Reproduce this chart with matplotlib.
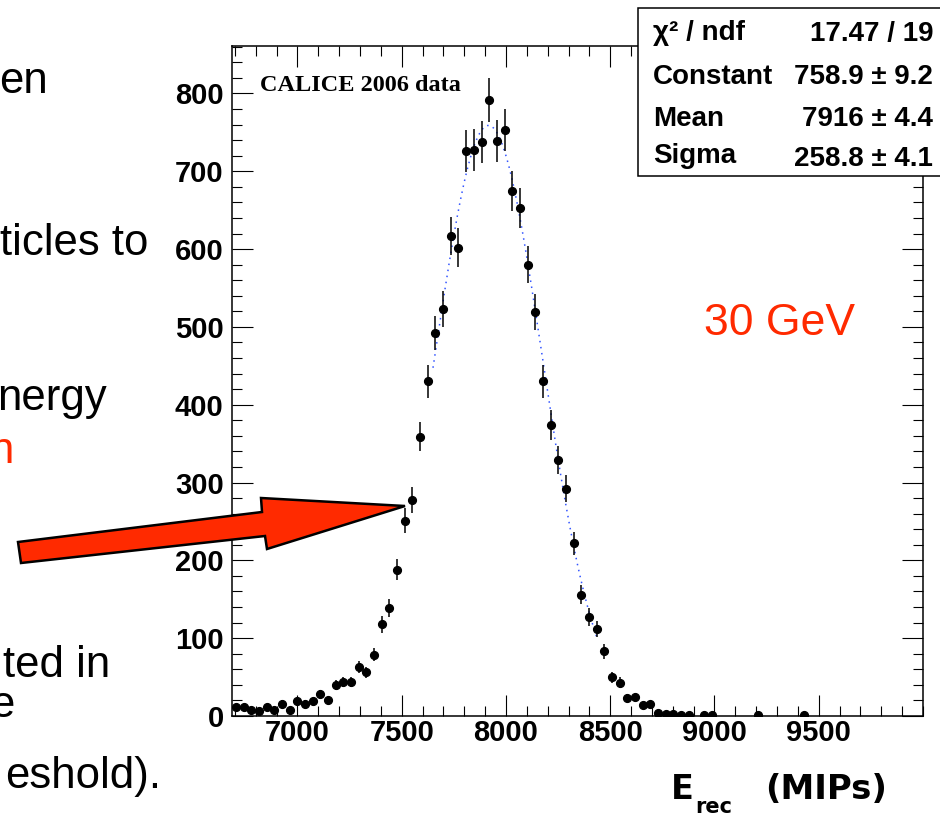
import numpy as np
import matplotlib
matplotlib.use("Agg")
import matplotlib.pyplot as plt
from matplotlib.patches import Polygon, Rectangle
from matplotlib.ticker import MultipleLocator

# ---------------- data ----------------
bin_low = 6686.0
bin_high = 10000.0
n_bins = 90
counts = [11, 11, 8, 7, 12, 8, 16, 8, 19, 16,
          19, 28, 20, 40, 44, 44, 63, 56, 79, 118,
          139, 188, 251, 278, 359, 430, 492, 523, 617, 602,
          726, 727, 738, 792, 739, 753, 675, 653, 580, 519,
          430, 374, 329, 292, 222, 156, 127, 112, 83, 50,
          43, 23, 24, 14, 15, 4, 2, 2, 1, 1,
          0, 1, 1, 0, 0, 0, 0, 0, 1, 0,
          0, 0, 0, 0, 1]
fit_constant = 758.9
fit_mean = 7916.0
fit_sigma = 258.8
fit_range = [7650.0, 8440.0]
xticks = [7000, 7500, 8000, 8500, 9000, 9500]
yticks = [0, 100, 200, 300, 400, 500, 600, 700, 800]
ylim_top = 861
stats_labels = ["χ² / ndf", "Constant", "Mean", "Sigma"]
stats_values = ["17.47 / 19", "758.9 ± 9.2", "7916 ± 4.4", "258.8 ± 4.1"]
slide_lines = [("en", "black"), ("ticles to", "black"), ("nergy", "black"),
               ("n", "#ff2a00"), ("ted in", "black"), ("e", "black"),
               ("eshold).", "black")]

W, H = 940, 816
RED = "#ff2a00"


def fx(x):
    return x / W


def fy(y):
    return 1 - y / H


fig = plt.figure(figsize=(W / 100, H / 100), dpi=100)
ax = fig.add_axes([fx(232), fy(716), (923 - 232) / W, (716 - 46) / H])

edges = np.linspace(bin_low, bin_high, n_bins + 1)
centers = 0.5 * (edges[:-1] + edges[1:])
c = np.array(counts, dtype=float)
xc = centers[:len(c)]
mask = c > 0
ax.errorbar(xc[mask], c[mask], yerr=np.sqrt(c[mask]), fmt='o', color='black',
            ms=5.6, elinewidth=1.1, capsize=0, zorder=3)

xf = np.linspace(fit_range[0], fit_range[1], 400)
yf = fit_constant * np.exp(-0.5 * ((xf - fit_mean) / fit_sigma) ** 2)
ax.plot(xf, yf, color='#3355ff', lw=1.1, linestyle=(0, (1, 3)), zorder=2)

ax.set_xlim(bin_low, bin_high)
ax.set_ylim(0, ylim_top)
ax.set_xticks(xticks)
ax.set_yticks(yticks)
ax.xaxis.set_minor_locator(MultipleLocator(100))
ax.yaxis.set_minor_locator(MultipleLocator(20))
ax.tick_params(which='both', direction='in', top=True, right=True, width=0.8)
ax.tick_params(which='major', length=15)
ax.tick_params(which='minor', length=7)
ax.tick_params(axis='y', pad=6)
ax.tick_params(axis='x', pad=2.5)
for lab in ax.get_xticklabels() + ax.get_yticklabels():
    lab.set_fontfamily('Liberation Sans')
    lab.set_fontweight('bold')
    lab.set_fontsize(21)
for s in ax.spines.values():
    s.set_linewidth(1.1)

ax.text(0.04, 0.957, "CALICE 2006 data", transform=ax.transAxes,
        family='Liberation Serif', weight='bold', fontsize=17.5, va='top', ha='left')

# axis title
fig.text(fx(671), fy(799), "E", family='DejaVu Sans', weight='bold',
         fontsize=24, ha='left', va='baseline')
fig.text(fx(695), fy(813), "rec", family='DejaVu Sans', weight='bold',
         fontsize=15, ha='left', va='baseline')
fig.text(fx(887), fy(799), "(MIPs)", family='DejaVu Sans', weight='bold',
         fontsize=24.5, ha='right', va='baseline')

# red label
fig.text(fx(779), fy(335), "30 GeV", family='Liberation Sans', fontsize=32,
         color=RED, ha='center', va='baseline')

# stats box
box = Rectangle((fx(638), fy(176)), fx(950) - fx(638), fy(8) - fy(176),
                transform=fig.transFigure, facecolor='white', edgecolor='black',
                lw=1.1, zorder=10)
fig.add_artist(box)
label_base = [40, 84, 126, 163]
value_base = [41, 84, 126, 166]
for lab, val, yb, yv in zip(stats_labels, stats_values, label_base, value_base):
    fig.text(fx(653), fy(yb), lab, family='Liberation Sans', weight='bold',
             fontsize=20, ha='left', va='baseline', zorder=11)
    fig.text(fx(933), fy(yv), val, family='Liberation Sans', weight='bold',
             fontsize=20, ha='right', va='baseline', zorder=11)

# slide text fragments on the left (cut off at the left edge, as in the slide)
slide_pos = [(48, 93), (148, 255), (107, 410), (14, 463), (110, 677), (14, 717), (161, 788)]
for (txt, col), (xr, yb) in zip(slide_lines, slide_pos):
    fig.text(fx(xr), fy(yb), txt, family='Liberation Sans', fontsize=31.5,
             color=col, ha='right', va='baseline')

# red arrow
arrow_px = [(18, 542), (262, 512), (261, 498), (405, 506), (267, 549), (265, 536), (21, 563)]
arrow = Polygon([(fx(x), fy(y)) for x, y in arrow_px], closed=True,
                transform=fig.transFigure, facecolor=RED, edgecolor='black',
                lw=1.8, joinstyle='miter', zorder=12)
fig.add_artist(arrow)

fig.savefig("out.png", dpi=100)
